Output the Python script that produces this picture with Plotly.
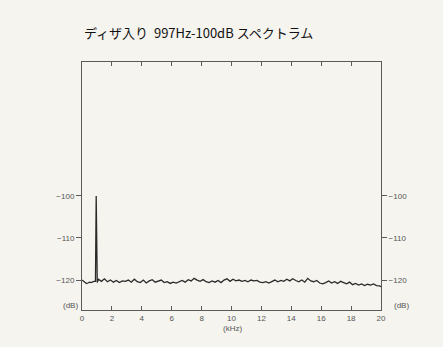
import plotly.graph_objects as go

title_text = "ディザ入り  997Hz-100dB スペクトラム"

freq_khz = [0.0, 0.1, 0.2, 0.3, 0.4, 0.5, 0.6, 0.7, 0.8, 0.9, 0.95, 1.02,
            1.1, 1.3, 1.5, 1.7, 1.9, 2.1, 2.3, 2.5, 2.7, 2.9,
            3.1, 3.3, 3.5, 3.7, 3.9, 4.1, 4.3, 4.5, 4.7, 4.9,
            5.1, 5.3, 5.5, 5.7, 5.9, 6.1, 6.3, 6.5, 6.7, 6.9,
            7.1, 7.3, 7.5, 7.7, 7.9, 8.1, 8.3, 8.5, 8.7, 8.9,
            9.1, 9.3, 9.5, 9.7, 9.9, 10.1, 10.3, 10.5, 10.7, 10.9,
            11.1, 11.3, 11.5, 11.7, 11.9, 12.1, 12.3, 12.5, 12.7, 12.9,
            13.1, 13.3, 13.5, 13.7, 13.9, 14.1, 14.3, 14.5, 14.7, 14.9,
            15.1, 15.3, 15.5, 15.7, 15.9, 16.1, 16.3, 16.5, 16.7, 16.9,
            17.1, 17.3, 17.5, 17.7, 17.9, 18.1, 18.3, 18.5, 18.7, 18.9,
            19.1, 19.3, 19.5, 19.7, 19.9, 20.0]

level_db = [-120.0, -120.2, -120.6, -120.8, -120.7, -120.5, -120.6, -120.4, -120.3, -120.3, -100.1, -120.6,
            -119.8, -120.3, -119.7, -120.4, -120.0, -120.5, -120.1, -120.6, -120.2, -120.3,
            -120.0, -120.5, -119.8, -120.4, -120.6, -120.0, -120.7, -120.2, -119.9, -120.5,
            -120.3, -120.0, -120.6, -120.4, -120.8, -120.5, -120.7, -120.4, -120.1, -120.5,
            -119.9, -120.2, -119.6, -120.0, -120.3, -119.9, -120.4, -120.6, -120.2, -120.5,
            -120.1, -120.6, -120.0, -119.7, -120.3, -119.8, -120.2, -120.0, -120.3, -120.1,
            -120.4, -120.0, -120.2, -120.1, -120.5, -120.6, -120.4, -120.7, -120.3, -120.0,
            -120.4, -120.1, -120.3, -119.8, -120.2, -119.7, -120.1, -120.4, -120.0, -120.5,
            -119.6, -120.2, -120.4, -120.1, -120.7, -120.9, -120.6, -120.2, -120.7, -120.4,
            -120.8, -120.3, -120.6, -120.9, -120.5, -121.1, -120.8, -121.2, -120.9, -121.3,
            -121.0, -121.2, -120.9, -121.3, -121.4, -121.6]

x_ticks = [0, 2, 4, 6, 8, 10, 12, 14, 16, 18, 20]
y_ticks = [-100, -110, -120]
y_range = [-127.1, -68.3]

bg = "#f6f4ef"
axis_col = "#5a5a5a"
tick_font = dict(family="Liberation Sans, Arial, sans-serif", size=8, color="#555555")

fig = go.Figure()
fig.add_trace(go.Scatter(x=freq_khz, y=level_db, mode="lines",
                         line=dict(color="#2a2a2a", width=1.3),
                         hoverinfo="skip", showlegend=False))
fig.add_trace(go.Scatter(x=freq_khz, y=level_db, mode="lines", yaxis="y2",
                         line=dict(color="rgba(0,0,0,0)", width=0),
                         hoverinfo="skip", showlegend=False))

fig.update_layout(
    width=443, height=347,
    margin=dict(l=82, r=62, t=62, b=37),
    paper_bgcolor=bg, plot_bgcolor=bg,
    xaxis=dict(range=[0, 20], tickvals=x_ticks, ticks="inside", ticklen=4,
               tickcolor=axis_col, showline=True, linecolor=axis_col, linewidth=1,
               mirror="ticks", showgrid=False, zeroline=False, tickfont=tick_font),
    yaxis=dict(range=y_range, tickvals=y_ticks, ticks="outside", ticklen=5,
               tickcolor=axis_col, showline=True, linecolor=axis_col, linewidth=1,
               mirror=True, showgrid=False, zeroline=False, tickfont=tick_font),
    yaxis2=dict(range=y_range, tickvals=y_ticks, ticks="outside", ticklen=5,
                tickcolor=axis_col, showline=False, overlaying="y", side="right",
                showgrid=False, zeroline=False, tickfont=tick_font),
    annotations=[
        dict(text=title_text, xref="paper", yref="paper", x=0.0, y=1.117,
             xanchor="left", yanchor="middle", showarrow=False,
             font=dict(family="Noto Sans CJK JP", size=13, color="#111111")),
        dict(text="(dB)", xref="paper", yref="paper", x=-0.037, y=0.02,
             xanchor="center", yanchor="middle", showarrow=False, font=tick_font),
        dict(text="(dB)", xref="paper", yref="paper", x=1.070, y=0.02,
             xanchor="center", yanchor="middle", showarrow=False, font=tick_font),
        dict(text="(kHz)", xref="paper", yref="paper", x=0.505, y=-0.073,
             xanchor="center", yanchor="middle", showarrow=False, font=tick_font),
    ],
)

fig.write_html("out.html", config={"displayModeBar": False},
               post_script="document.body.style.margin='0';document.body.style.background='%s';" % bg)
